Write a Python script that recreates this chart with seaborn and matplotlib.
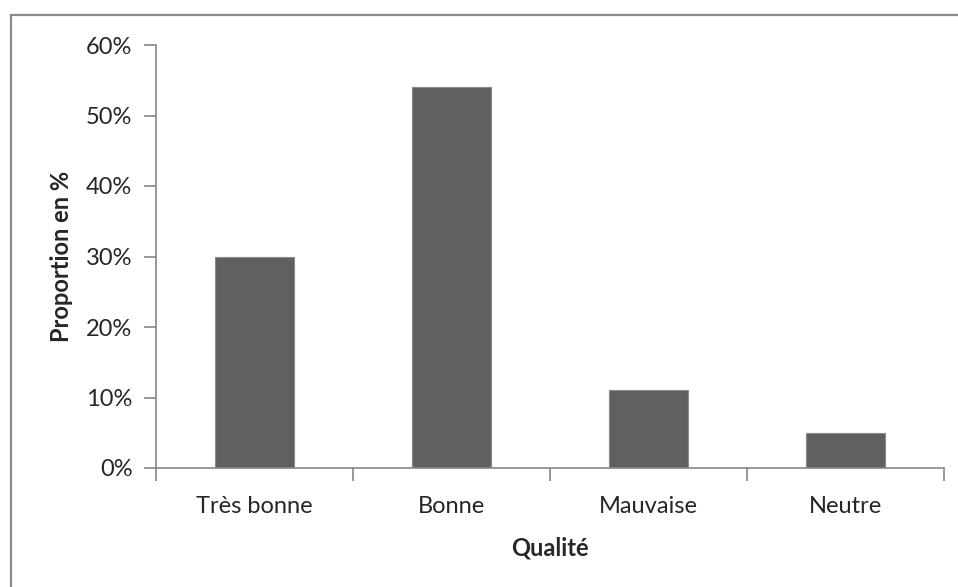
import matplotlib
matplotlib.use("Agg")
import matplotlib.pyplot as plt
from matplotlib.patches import Rectangle
from matplotlib.ticker import FixedLocator, FuncFormatter
import seaborn as sns
import pandas as pd

categories = ["Très bonne", "Bonne", "Mauvaise", "Neutre"]
proportions = [30, 54, 11, 5]
y_ticks = [0, 10, 20, 30, 40, 50, 60]

sns.set_style("white")
plt.rcParams["font.family"] = ["Lato", "DejaVu Sans"]

axis_grey = "#868686"
text_col = "#262626"

df = pd.DataFrame({"Qualité": categories, "Proportion": proportions})

fig = plt.figure(figsize=(9.58, 5.87), dpi=100)
ax = fig.add_axes([156 / 958, 1 - 468 / 587, (944 - 156) / 958, (468 - 45) / 587])

sns.barplot(data=df, x="Qualité", y="Proportion", color="#606060",
            width=0.405, edgecolor="#8a8a8a", linewidth=0.8, saturation=1, ax=ax)

ax.set_xlim(-0.5, len(categories) - 0.5)
ax.set_ylim(0, 60)
ax.set_yticks(y_ticks)
ax.yaxis.set_major_formatter(FuncFormatter(lambda v, p: f"{v:.0f}%"))

# category labels centred, tick marks on category boundaries
ax.set_xticks(range(len(categories)))
ax.set_xticklabels(categories)
ax.xaxis.set_minor_locator(FixedLocator([i - 0.5 for i in range(len(categories) + 1)]))
ax.tick_params(axis="x", which="major", length=0, pad=20, labelsize=17, labelcolor=text_col)
ax.tick_params(axis="x", which="minor", length=9, width=1.2, color=axis_grey, direction="out", bottom=True)
ax.tick_params(axis="y", which="major", length=9, width=1.2, color=axis_grey, direction="out",
               left=True, pad=8, labelsize=17, labelcolor=text_col)

for side in ("top", "right"):
    ax.spines[side].set_visible(False)
for side in ("left", "bottom"):
    ax.spines[side].set_color(axis_grey)
    ax.spines[side].set_linewidth(1.2)

ax.set_xlabel("Qualité", fontsize=17, fontweight="bold", color=text_col, labelpad=14)
ax.set_ylabel("Proportion en %", fontsize=17, fontweight="bold", color=text_col, labelpad=9)

# chart frame
fig.patches.append(Rectangle((11 / 958, -0.2), 1.2, 1.2 - 15 / 587,
                             transform=fig.transFigure, fill=False,
                             edgecolor="#8a8a8a", linewidth=1.6, clip_on=False))

fig.savefig("out.png", dpi=100)
